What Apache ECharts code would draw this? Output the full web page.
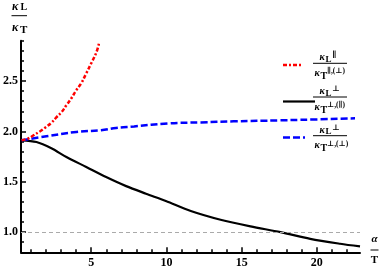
<!DOCTYPE html>
<html><head><meta charset="utf-8">
<script src="https://cdn.jsdelivr.net/npm/echarts@6/dist/echarts.min.js"></script>
<style>html,body{margin:0;padding:0;background:#fff}#c{width:382px;height:270px}</style>
</head><body><div id="c"></div>
<script>
// ---- data ----
var redX = [0.37, 0.81, 1.14, 1.58, 1.91, 2.35, 2.68, 3.02, 3.35, 3.68, 4.01, 4.34, 4.68, 5.01, 5.33, 5.51];
var redY = [1.912, 1.93, 1.96, 2.00, 2.035, 2.085, 2.14, 2.19, 2.26, 2.33, 2.41, 2.48, 2.58, 2.68, 2.78, 2.87];
var blackX = [0.37, 1.36, 2.35, 3.35, 4.67, 5.99, 7.32, 8.64, 9.96, 11.62, 13.6, 15.59, 17.58, 19.56, 21.55, 22.87];
var blackY = [1.912, 1.895, 1.833, 1.746, 1.647, 1.547, 1.457, 1.382, 1.31, 1.21, 1.123, 1.057, 1.0, 0.934, 0.885, 0.858];
var blueX = [0.37, 2.02, 4.01, 5.66, 6.65, 7.85, 10.1, 12.28, 14.47, 17.57, 18.9, 22.54];
var blueY = [1.912, 1.952, 1.995, 2.012, 2.035, 2.05, 2.08, 2.09, 2.10, 2.11, 2.115, 2.13];
var refY = 1.0;
var xMajorTicks = [5, 10, 15, 20];
var xMinorTicks = [1, 2, 3, 4, 6, 7, 8, 9, 11, 12, 13, 14, 16, 17, 18, 19, 21, 22];
var yMajorTicks = [1.0, 1.5, 2.0, 2.5];
var yMinorTicks = [0.9, 1.1, 1.2, 1.3, 1.4, 1.6, 1.7, 1.8, 1.9, 2.1, 2.2, 2.3, 2.4, 2.6, 2.7, 2.8, 2.9];
var legendSups = [['\u2225', '\u2225,(\u22a5)'], ['\u22a5', '\u22a5,(\u2225)'], ['\u22a5', '\u22a5,(\u22a5)']];

function pairs(xs, ys) { return xs.map(function (x, i) { return [x, ys[i]]; }); }

var SERIF = '"Liberation Serif", "DejaVu Serif", serif';
var chart = echarts.init(document.getElementById('c'), null, { renderer: 'canvas' });

// x,y: left (or center) position and text baseline
function txt(x, y, s, size, italic, align) {
  return {
    type: 'text', x: x, y: y - 0.34 * size, silent: true,
    style: {
      text: s, fill: '#000',
      font: (italic ? 'italic ' : '') + 'bold ' + size + 'px ' + SERIF,
      align: align || 'left', verticalAlign: 'middle',
      textAlign: align || 'left', textVerticalAlign: 'middle'
    }
  };
}
function hline(x1, x2, y, color, w, dash) {
  return { type: 'line', silent: true, shape: { x1: x1, y1: y, x2: x2, y2: y },
    style: { stroke: color, lineWidth: w, lineDash: dash || null } };
}

var redStyle = { color: '#ff0000', width: 2.5, type: [4, 2, 2, 2] };
var blackStyle = { color: '#000000', width: 2.2, type: 'solid' };
var blueStyle = { color: '#0000ff', width: 2.5, type: [7, 3] };

var g = [];
// y axis title
g.push(txt(12, 10.5, '\u03ba', 12, true));
g.push(txt(20.5, 10.5, 'L', 10, false));
g.push(hline(11.5, 27, 15.7, '#000', 1));
g.push(txt(12, 32, '\u03ba', 12, true));
g.push(txt(20, 34, 'T', 11, false));
// x axis title
g.push(txt(374.5, 242.5, '\u03b1', 11, true, 'center'));
g.push(hline(370.5, 378.5, 250, '#000', 1));
g.push(txt(374.5, 263.5, 'T', 11, false, 'center'));
// legend
var legLineY = [65, 101.5, 137.5];
var legBarY = [63.3, 97, 135.7];
var legStyles = [redStyle, blackStyle, blueStyle];
var legLen = [19, 32, 22];
for (var i = 0; i < 3; i++) {
  var st = legStyles[i];
  g.push(hline(283, 283 + legLen[i], legLineY[i], st.color, st.width, Array.isArray(st.type) ? st.type : null));
  var b = legBarY[i];
  g.push(hline(313, 347, b, '#000', 1));
  g.push(txt(319.5, b - 2, '\u03ba', 10, true));
  g.push(txt(325.5, b - 0.5, 'L', 9, false));
  g.push(txt(332, b - 5.5, legendSups[i][0], 8, false));
  g.push(txt(314.5, b + 13.5, '\u03ba', 10, true));
  g.push(txt(320.5, b + 16.5, 'T', 10, false));
  g.push(txt(327, b + 10.5, legendSups[i][1], 7.5, false));
}

var axisLineStyle = { color: '#000', width: 2 };
var option = {
  animation: false,
  backgroundColor: '#fff',
  grid: { left: 19.5, right: 22, top: 40.8, bottom: 17.7, containLabel: false },
  xAxis: [
    { type: 'value', min: 0.33, max: 22.87, splitLine: { show: false },
      axisLine: { show: true, onZero: false, lineStyle: axisLineStyle },
      axisTick: { show: true, inside: true, length: 5, customValues: xMajorTicks, lineStyle: { color: '#000', width: 1.5 } },
      axisLabel: { customValues: xMajorTicks, margin: 5, color: '#000', fontFamily: SERIF, fontWeight: 'bold', fontSize: 12 } },
    { type: 'value', min: 0.33, max: 22.87, position: 'bottom', splitLine: { show: false },
      axisLine: { show: false, onZero: false },
      axisTick: { show: true, inside: true, length: 3, customValues: xMinorTicks, lineStyle: { color: '#000', width: 1.5 } },
      axisLabel: { show: false } }
  ],
  yAxis: [
    { type: 'value', min: 0.8, max: 2.9, splitLine: { show: false },
      axisLine: { show: true, onZero: false, lineStyle: axisLineStyle },
      axisTick: { show: true, inside: true, length: 5, customValues: yMajorTicks, lineStyle: { color: '#000', width: 1.5 } },
      axisLabel: { customValues: yMajorTicks, margin: 3, color: '#000', fontFamily: SERIF, fontWeight: 'bold', fontSize: 12,
        formatter: function (v) { return v.toFixed(1); } } },
    { type: 'value', min: 0.8, max: 2.9, position: 'left', splitLine: { show: false },
      axisLine: { show: false, onZero: false },
      axisTick: { show: true, inside: true, length: 3, customValues: yMinorTicks, lineStyle: { color: '#000', width: 1.5 } },
      axisLabel: { show: false } }
  ],
  series: [
    { type: 'line', name: 'black', xAxisIndex: 0, yAxisIndex: 0, data: pairs(blackX, blackY), smooth: 0.3,
      showSymbol: false, symbol: 'none', lineStyle: blackStyle, z: 3,
      markLine: { silent: true, symbol: 'none', label: { show: false },
        lineStyle: { color: '#aaaaaa', width: 1, type: [4, 3] }, data: [{ yAxis: refY }] } },
    { type: 'line', name: 'blue', xAxisIndex: 0, yAxisIndex: 0, data: pairs(blueX, blueY), smooth: 0.4,
      showSymbol: false, symbol: 'none', lineStyle: blueStyle, z: 4 },
    { type: 'line', name: 'red', xAxisIndex: 0, yAxisIndex: 0, data: pairs(redX, redY), smooth: 0.4,
      showSymbol: false, symbol: 'none', lineStyle: redStyle, z: 5 }
  ],
  graphic: g
};
chart.setOption(option);
</script></body></html>
